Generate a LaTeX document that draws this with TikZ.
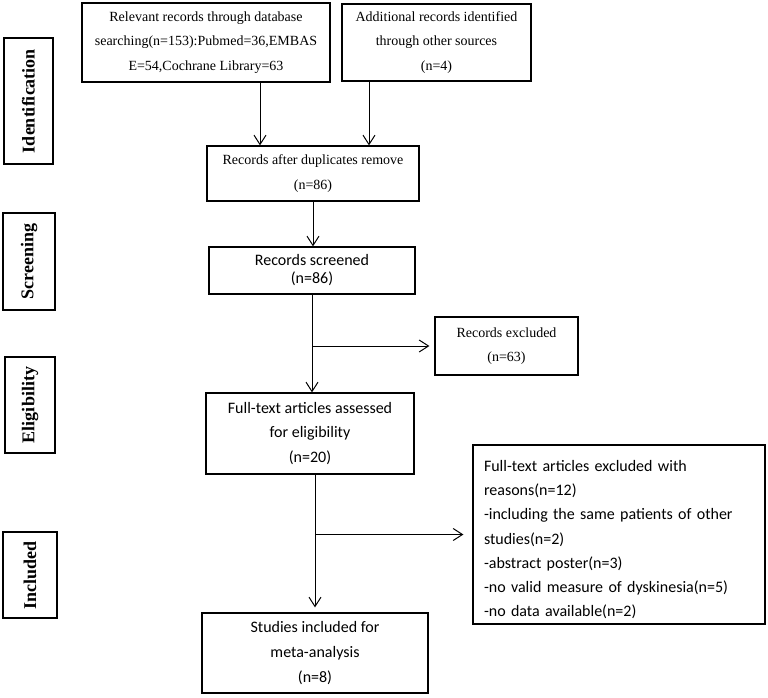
\documentclass[tikz,border=0pt]{standalone}
\usepackage{fontspec}
\setmainfont{Liberation Serif}
\newfontfamily\calib{Carlito}
\usetikzlibrary{arrows.meta,calc}

\begin{document}
\begin{tikzpicture}[x=0.75pt,y=-0.75pt,
  box/.style={draw,line width=0.9pt,inner sep=0pt,align=center,execute at begin node={\rule{0pt}{1.35em}}},
  serif/.style={font=\fontsize{10.5}{18.5}\selectfont,execute at begin node={\rule{0pt}{1.8em}}},
  sans/.style={font=\calib\fontsize{12}{18.4}\selectfont},
  phase/.style={draw,line width=0.9pt,rotate=90,inner sep=0pt,font=\bfseries\fontsize{13.5}{16}\selectfont},
  arr/.style={line width=0.75pt,-{Straight Barb[length=7pt,width=9pt]}}]
\useasboundingbox (0,0) rectangle (768,697);

% phases on the left
\node[phase,minimum width=94.5pt,minimum height=36.75pt] (idf) at (28.5,101) {Identification};
\node[phase,minimum width=72.75pt,minimum height=39pt] (scrn) at (29,261.5) {Screening};
\node[phase,minimum width=72pt,minimum height=37.5pt] (elig) at (30,405) {Eligibility};
\node[phase,minimum width=64.5pt,minimum height=40.5pt] (incd) at (30,575) {Included};

% flow boxes
\node[box,serif,minimum width=186pt,minimum height=59.25pt] (db) at (206,42.5)
  {Relevant records through database\\searching(n=153):Pubmed=36,EMBAS\\E=54,Cochrane Library=63};
\node[box,serif,minimum width=141.75pt,minimum height=57.75pt] (other) at (436.5,42.5)
  {Additional records identified\\through other sources\\(n=4)};
\node[box,serif,minimum width=159pt,minimum height=41.25pt] (dup) at (313,173.5)
  {Records after duplicates remove\\(n=86)};
\node[box,sans,font=\calib\fontsize{12}{13.5}\selectfont,minimum width=154.5pt,minimum height=35.25pt] (scr) at (312,270.5)
  {Records screened\\(n=86)};
\node[box,serif,minimum width=107.25pt,minimum height=43.5pt] (excl) at (506.5,346)
  {Records excluded\\(n=63)};
\node[box,sans,minimum width=156pt,minimum height=60.75pt] (full) at (310,433.5)
  {Full-text articles assessed\\for eligibility\\(n=20)};
\node[box,sans,font=\calib\fontsize{12}{18.2}\selectfont,align=left,text width=202.5pt,inner xsep=8.25pt,minimum height=134.25pt] (reas) at (619,534.5)
  {Full-text articles excluded with\\reasons(n=12)\\-including the same patients of other\\studies(n=2)\\-abstract poster(n=3)\\-no valid measure of dyskinesia(n=5)\\-no data available(n=2)};
\node[box,sans,font=\calib\fontsize{12}{18.75}\selectfont,minimum width=169.5pt,minimum height=60pt] (incl) at (315,653)
  {Studies included for\\meta-analysis\\(n=8)};

% arrows
\draw[arr] ($(db.south)+(54,0)$) -- ($(dup.north)+(-53,0)$);
\draw[arr] ($(other.south)+(-67.5,0)$) -- ($(dup.north)+(56,0)$);
\draw[arr] (dup.south) -- (dup.south |- scr.north);
\draw[arr] (scr.south) -- (scr.south |- full.north);
\draw[arr,shorten >=3.75pt] (scr.south |- excl.west) -- (excl.west);
\draw[arr,shorten >=3.75pt] ($(full.south)+(5,0)$) -- (incl.north);
\draw[arr,shorten >=6.75pt] (incl.north |- reas.west) -- (reas.west);
\end{tikzpicture}
\end{document}
